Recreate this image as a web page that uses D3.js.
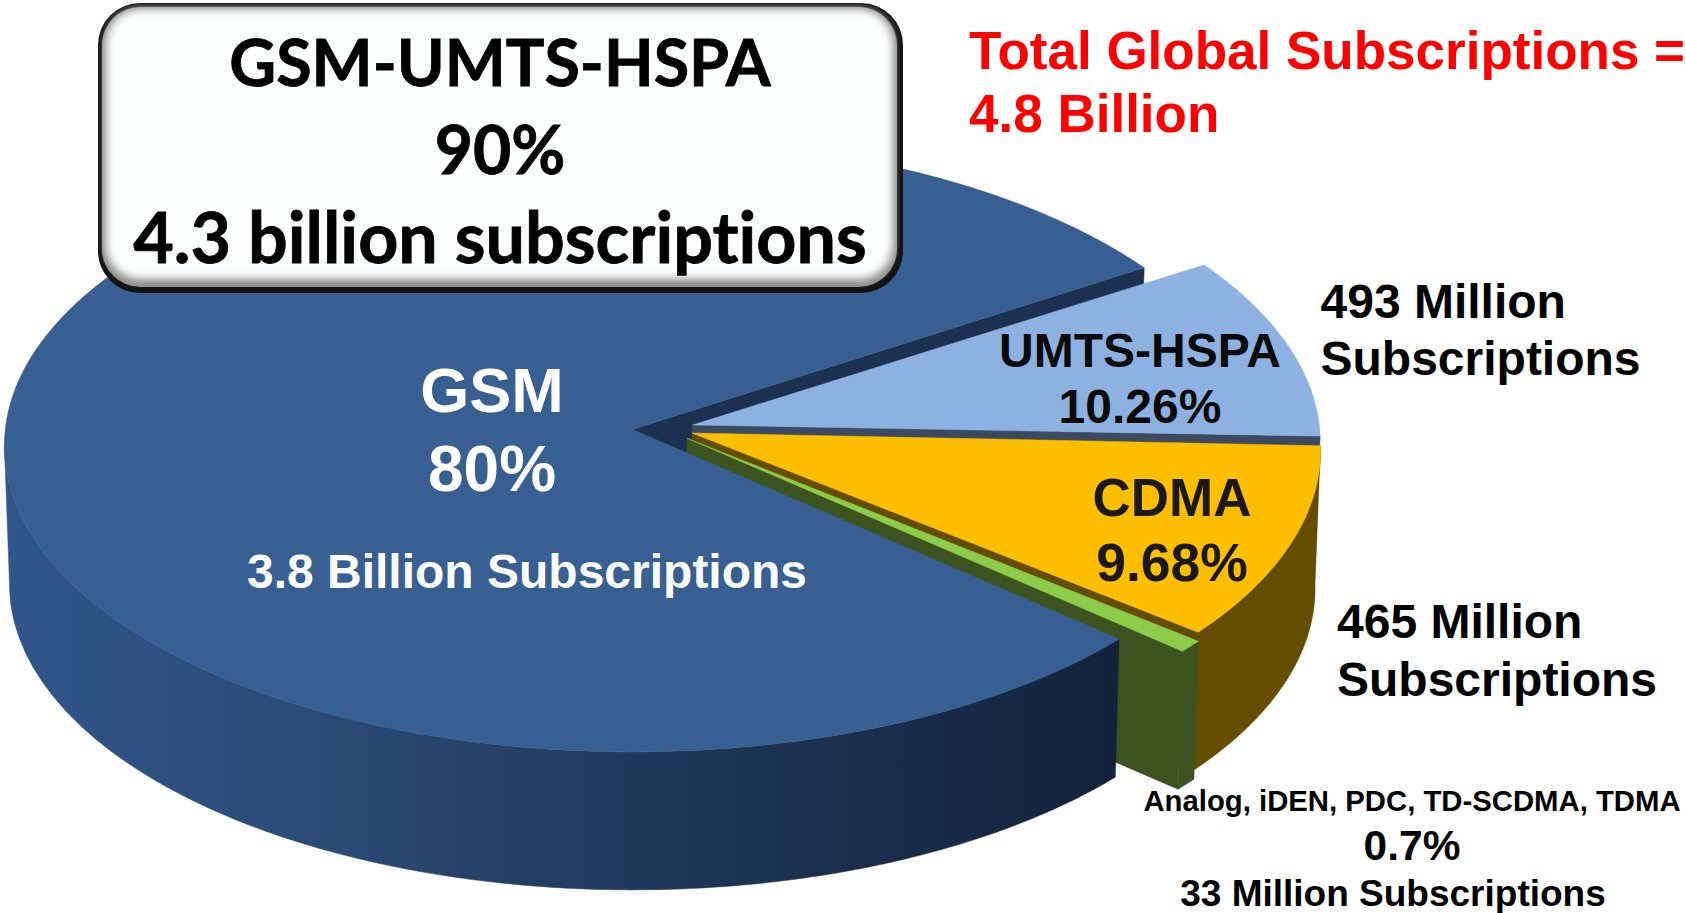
<!DOCTYPE html>
<html>
<head>
<meta charset="utf-8">
<script src="https://cdn.jsdelivr.net/npm/d3@7"></script>
<style>
  html, body { margin: 0; padding: 0; background: #fff; overflow: hidden; }
  svg { display: block; }
  text { font-family: "Liberation Sans", Arial, sans-serif; font-weight: bold; }
  .box text { font-family: Lato, sans-serif; font-variant-ligatures: none; stroke: #000; stroke-width: 0.8px; }
</style>
</head>
<body>
<div id="chart"></div>
<script>
// values
const categories = ['GSM', 'UMTS-HSPA', 'CDMA', 'Analog, iDEN, PDC, TD-SCDMA, TDMA'];
const subscriptions = [3800, 493, 465, 33]; // millions
const percentLabels = ['80%', '10.26%', '9.68%', '0.7%'];
const subscriptionLabels = ['3.8 Billion Subscriptions', '493 Million', '465 Million', '33 Million Subscriptions'];
const boxLines = ['GSM-UMTS-HSPA', '90%', '4.3 billion subscriptions'];
const totalLines = ['Total Global Subscriptions =', '4.8 Billion'];

const width = 1686, height = 913;

// pie look
const topColors = ['#375f91', '#8db1e0', '#fdbf00', '#8ccc4a'];
const wallColors = ['#1c3050', '#3b4a60', '#654d00', '#3c5320'];
// slice pull-out in disc units (x, y up)
const explode = [[-0.003, 0.002], [0.0927, 0.0164], [0.0916, -0.0098], [0.0836, -0.027]];
// the drawn 3D slices are not quite true to angle, small hand fit in degrees (start, end)
const edgeNudge = [[0, 0], [0.3, -2], [-1.7, 0], [0.2, 0]];
const rimScale = [1, 1, 1, 1.012];

const cx = 634.4, cy = 430;   // where the pie centre lands on screen
const radiusX = 627.3, radiusY = 305.6;
const tilt = 0.0526;          // perspective, far side of the disc is squashed
const depth = 138;
const bottomShrink = 0.992;   // the bottom of the pie is a little narrower

const svg = d3.select('#chart').append('svg')
  .attr('width', width)
  .attr('height', height)
  .attr('viewBox', `0 0 ${width} ${height}`);

const defs = svg.append('defs');

const sideGrad = defs.append('linearGradient')
  .attr('id', 'gsmSide')
  .attr('gradientUnits', 'userSpaceOnUse')
  .attr('x1', 5).attr('x2', 1120).attr('y1', 0).attr('y2', 0);
sideGrad.selectAll('stop')
  .data([[0, '#30558a'], [0.3, '#2a4a74'], [0.6, '#1e3657'], [1, '#13223a']])
  .join('stop')
  .attr('offset', d => d[0])
  .attr('stop-color', d => d[1]);

defs.append('filter').attr('id', 'soft')
  .attr('x', '-5%').attr('y', '-5%').attr('width', '110%').attr('height', '110%')
  .append('feGaussianBlur').attr('stdDeviation', 4);

// disc coordinates -> screen
function project(u, v) {
  const w = 1 + tilt * v;
  return [cx + radiusX * u / w, cy - radiusY * v / w];
}

const pie = d3.pie()
  .sort(null)
  .startAngle(131.5 * Math.PI / 180)
  .endAngle((131.5 + 360) * Math.PI / 180);
const toRad = Math.PI / 180;
const arcs = pie(subscriptions).map((d, i) => ({
  startAngle: d.startAngle + edgeNudge[i][0] * toRad,
  endAngle: d.endAngle + edgeNudge[i][1] * toRad
}));

const line = d3.line();

function rimPoints(i, a0, a1) {
  const [du, dv] = explode[i];
  const r = rimScale[i];
  const n = Math.max(2, Math.ceil(Math.abs(a1 - a0) / 0.01));
  return d3.range(n + 1).map(k => {
    const a = a0 + (a1 - a0) * k / n;
    return project(r * Math.sin(a) + du, r * Math.cos(a) + dv);
  });
}
const apex = i => project(explode[i][0], explode[i][1]);
const drop = pts => pts.map(p => [cx + (p[0] - cx) * bottomShrink, p[1] + depth]);

function drawPoly(pts, fill) {
  svg.append('path')
    .attr('d', line(pts) + 'Z')
    .attr('fill', fill)
    .attr('stroke', fill)
    .attr('stroke-width', 0.5);
}

function drawTop(i) {
  const d = arcs[i];
  drawPoly([apex(i), ...rimPoints(i, d.startAngle, d.endAngle)], topColors[i]);
}

// wall along a straight cut of slice i
function drawCut(i, a) {
  const edge = [apex(i), rimPoints(i, a, a)[2]];
  drawPoly([...edge, ...drop(edge).reverse()], wallColors[i]);
}

// wall along the outer rim of slice i
function drawRim(i, a0, a1, fill) {
  const rim = rimPoints(i, a0, a1);
  drawPoly([...rim, ...drop(rim).reverse()], fill);
}

const [gsm, umts, cdma, other] = arcs;

// back to front
drawCut(0, gsm.endAngle);
drawCut(1, umts.endAngle);
drawTop(1);

drawCut(2, cdma.endAngle);
drawRim(2, Math.max(cdma.startAngle, Math.PI / 2), cdma.endAngle, wallColors[2]);
drawTop(2);

drawCut(3, other.endAngle);
drawRim(3, other.startAngle, other.endAngle, wallColors[3]);
drawTop(3);

drawRim(0, gsm.startAngle, 267 * Math.PI / 180, 'url(#gsmSide)');
drawTop(0);

// labels on the slices
function label(txt, x, y, size, fill, anchor) {
  return svg.append('text')
    .attr('x', x).attr('y', y)
    .attr('font-size', size)
    .attr('fill', fill)
    .attr('text-anchor', anchor || 'middle')
    .text(txt);
}

label(categories[0], 492, 412, 63, '#fff');
label(percentLabels[0], 492, 491, 64, '#fff');
label(subscriptionLabels[0], 527, 588, 48, '#fff');

label(categories[1], 1140, 367, 48, '#0a0a0a');
label(percentLabels[1], 1140, 423, 48, '#0a0a0a');
label(categories[2], 1172, 516, 53, '#1c1a10');
label(percentLabels[2], 1172, 581, 53.5, '#1c1a10');

label(subscriptionLabels[1], 1320.5, 318, 48, '#000', 'start');
label('Subscriptions', 1320.5, 375, 48, '#000', 'start');
label(subscriptionLabels[2], 1337, 638, 48, '#000', 'start');
label('Subscriptions', 1337, 696, 48, '#000', 'start');

label(categories[3], 1412, 811, 29.3, '#000');
label(percentLabels[3], 1412, 860, 42.5, '#000');
label(subscriptionLabels[3], 1393, 906, 37, '#000');

label(totalLines[0], 969, 69, 53, '#ff0000', 'start');
label(totalLines[1], 969, 132, 53, '#ff0000', 'start');

// call-out box
const box = svg.append('g').attr('class', 'box');
box.append('rect')
  .attr('x', 98).attr('y', 3).attr('width', 805).attr('height', 290)
  .attr('rx', 42)
  .attr('fill', '#111');
box.append('rect')
  .attr('x', 102).attr('y', 7).attr('width', 795).attr('height', 280)
  .attr('rx', 38)
  .attr('fill', '#8a8a8a');
box.append('rect')
  .attr('x', 106).attr('y', 9).attr('width', 787).attr('height', 270)
  .attr('rx', 34)
  .attr('fill', '#fcffff')
  .attr('filter', 'url(#soft)');

box.selectAll('text')
  .data(boxLines)
  .join('text')
  .attr('x', 500)
  .attr('y', (d, i) => [86, 174, 263][i])
  .attr('text-anchor', 'middle')
  .attr('font-size', (d, i) => [64.6, 66, 70][i])
  .attr('fill', '#000')
  .text(d => d);
</script>
</body>
</html>
